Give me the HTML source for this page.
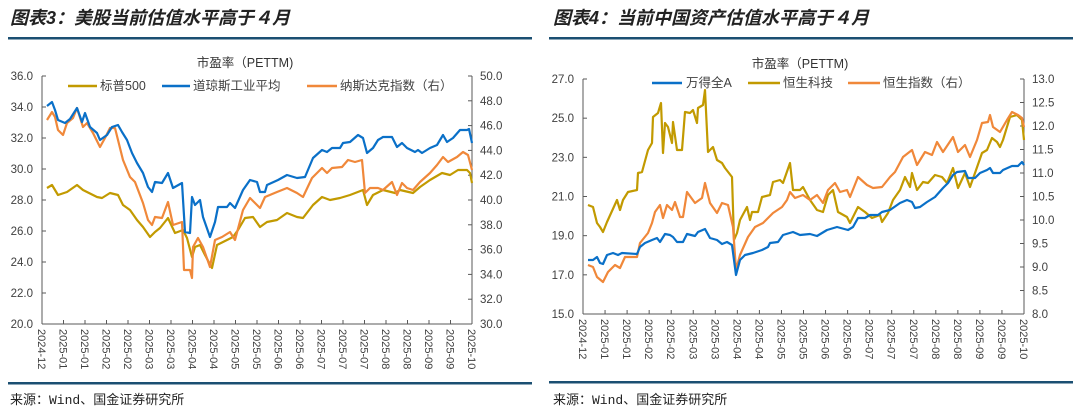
<!DOCTYPE html>
<html><head><meta charset="utf-8">
<style>
body{margin:0;background:#fff;width:1080px;height:415px;overflow:hidden;}
svg{display:block;font-family:"Liberation Sans","Noto Sans CJK SC",sans-serif;}
</style></head><body>
<svg id="s" width="1080" height="415" xmlns="http://www.w3.org/2000/svg">
<text x="10" y="24" font-size="18" font-weight="bold" font-style="italic" fill="#222" font-family="Liberation Sans,Noto Sans CJK SC,sans-serif">图表3：美股当前估值水平高于４月</text>
<text x="553" y="24" font-size="18" font-weight="bold" font-style="italic" fill="#222" font-family="Liberation Sans,Noto Sans CJK SC,sans-serif">图表4：当前中国资产估值水平高于４月</text>
<rect x="8" y="37" width="524" height="2.5" fill="#1b4f72"/>
<rect x="549" y="37" width="524" height="2.5" fill="#1b4f72"/>
<rect x="8" y="382" width="524" height="2.5" fill="#1b4f72"/>
<rect x="549" y="381" width="524" height="2.5" fill="#1b4f72"/>
<text x="10" y="404" font-size="13" fill="#222" font-family="Liberation Mono,Noto Sans CJK SC,monospace">来源：Wind、国金证券研究所</text>
<text x="553" y="404" font-size="13" fill="#222" font-family="Liberation Mono,Noto Sans CJK SC,monospace">来源：Wind、国金证券研究所</text>
<text x="245" y="67" font-size="12.5" fill="#333" text-anchor="middle">市盈率（PETTM)</text>
<text x="800" y="68" font-size="12.5" fill="#333" text-anchor="middle">市盈率（PETTM)</text>
<g id="g"></g>
</svg>
<script>
var g=document.getElementById('g'),h='';
function ln(x1,y1,x2,y2,c,w){h+='<line x1="'+x1+'" y1="'+y1+'" x2="'+x2+'" y2="'+y2+'" stroke="'+c+'" stroke-width="'+(w||1)+'"/>';}
function tx(x,y,t,a,s,extra){h+='<text x="'+x+'" y="'+y+'" font-size="'+(s||11.5)+'" fill="#404040" text-anchor="'+(a||'start')+'" '+(extra||'')+'>'+t+'</text>';}
function pl(p,c){h+='<polyline fill="none" stroke="'+c+'" stroke-width="2.2" stroke-linejoin="round" points="'+p+'"/>';}
var labs=['2024-12','2025-01','2025-01','2025-02','2025-02','2025-03','2025-03','2025-04','2025-04','2025-05','2025-05','2025-06','2025-06','2025-07','2025-07','2025-07','2025-08','2025-08','2025-09','2025-09','2025-10'];
function chart(L,R,T,B,lmin,lmax,lstep,rmin,rmax,rstep){
 var ax='#595959';
 ln(L,T,L,B,ax);ln(R,T,R,B,ax);ln(L,B,R,B,ax);
 for(var v=lmin;v<=lmax+1e-9;v+=lstep){var y=B-(v-lmin)/(lmax-lmin)*(B-T);ln(L,y,L+4,y,ax);tx(L-9,y+4,v.toFixed(1),'end');}
 for(var v=rmin;v<=rmax+1e-9;v+=rstep){var y=B-(v-rmin)/(rmax-rmin)*(B-T);ln(R-4,y,R,y,ax);tx(R+8,y+4,v.toFixed(1),'start');}
 for(var i=0;i<21;i++){var x=L+i*(R-L)/20;ln(x,B,x,B-4,ax);tx(x-4,B+5,labs[i],'start',11,'transform="rotate(90 '+(x-4)+' '+(B+5)+')"');}
}
chart(42,472,76,324,20,36,2,30,50,2);
chart(583,1024,79,314,15,27,2,8,13,0.5);
// legends
var BL='#0a70c8',OR='#f0883a',GD='#c29a00';
ln(68,86,97,86,GD,2.5);tx(100,90,'标普500','start',12.5);
ln(162,86,190,86,BL,2.5);tx(193,90,'道琼斯工业平均','start',12.5);
ln(307,86,337,86,OR,2.5);tx(340,90,'纳斯达克指数（右）','start',12.5);
ln(652,83,682,83,BL,2.5);tx(686,87,'万得全A','start',12.5);
ln(748,83,780,83,GD,2.5);tx(783,87,'恒生科技','start',12.5);
ln(848,83,880,83,OR,2.5);tx(883,87,'恒生指数（右）','start',12.5);
// left chart series
pl('47,188 52,185 58,195 67,192 77,185 83,190 97,197 102,198 110,193 118,195 123,205 130,210 137,220 143,227 150,237 155,232 160,228 168,218 175,233 183,230 187,238 192,257 195,247 200,245 205,255 212,268 217,245 223,242 233,237 238,230 245,218 253,217 260,227 267,222 277,220 287,213 297,217 303,218 313,205 322,197 330,200 340,198 350,195 363,190 367,205 373,195 383,190 395,193 400,190 413,193 420,187 430,180 442,173 450,175 458,170 467,170 470,173 472,183',GD);
pl('47,120 52,112 55,117 58,130 63,135 67,123 73,118 77,108 83,127 87,123 93,133 100,147 105,138 110,128 115,128 118,140 123,160 130,177 135,182 143,203 148,220 152,225 155,217 162,218 168,202 173,225 182,222 184,270 190,270 192,278 193,247 198,238 203,247 210,267 215,240 222,237 230,232 235,240 243,210 250,198 260,208 265,197 277,192 287,188 297,193 303,197 312,178 322,168 327,173 332,168 342,167 348,160 355,162 362,160 365,193 370,188 378,188 383,190 392,182 397,195 402,183 407,188 413,190 420,182 430,173 437,165 443,157 448,162 457,157 463,152 468,155 472,170',OR);
pl('47,106 52,102 55,110 58,120 65,123 70,119 77,108 82,122 85,113 90,127 97,133 100,140 107,135 112,127 118,125 122,132 127,140 132,153 137,163 143,173 148,187 152,192 155,182 162,183 168,173 173,188 182,183 185,232 190,233 192,197 195,205 200,200 203,217 210,237 215,222 218,207 227,207 230,203 235,208 243,190 250,180 257,182 260,192 265,192 267,185 278,180 287,175 297,178 305,177 313,158 322,150 327,152 332,148 340,148 343,143 350,142 358,135 363,138 367,153 373,148 378,140 383,137 392,137 397,147 402,143 407,148 415,152 418,150 422,153 430,148 437,145 443,135 447,142 453,138 460,130 467,130 469,129 472,143',BL);
// right chart series
pl('588,205 593,207 597,223 600,227 603,232 607,222 617,200 620,210 623,200 628,192 637,190 638,173 642,172 648,150 652,143 653,117 658,113 661,103 663,153 665,123 668,127 672,143 673,122 677,150 682,150 685,112 690,113 693,110 697,123 698,108 703,105 705,90 708,152 713,147 717,160 722,163 725,168 732,177 734,240 737,233 740,220 747,207 750,220 752,212 758,212 762,197 770,195 773,182 780,180 783,183 790,163 793,190 800,190 803,187 810,200 817,210 823,212 828,195 833,190 838,212 847,217 850,223 858,207 865,212 872,218 880,215 882,222 888,213 893,200 900,190 905,177 910,187 912,173 917,190 923,182 928,183 935,175 942,177 947,183 953,168 958,188 965,173 970,187 975,173 982,153 987,150 992,138 997,142 1000,147 1003,140 1010,117 1017,115 1022,120 1024,140',GD);
pl('588,265 593,267 597,277 603,282 608,272 615,265 620,268 625,257 637,257 640,243 648,233 652,223 655,212 660,205 663,218 667,205 672,210 675,202 680,217 683,217 687,192 695,203 702,198 705,183 710,203 717,213 722,203 728,205 733,227 736,270 740,255 748,237 755,227 763,223 773,213 782,207 787,200 790,192 795,198 803,195 810,200 817,195 823,203 828,190 835,183 840,192 847,190 850,197 858,177 867,185 873,188 882,187 890,177 895,172 903,157 912,150 917,165 925,152 932,155 937,142 943,152 953,137 958,152 965,145 970,157 977,140 982,123 988,122 990,115 993,127 1000,132 1007,120 1012,112 1018,115 1022,118 1024,127',OR);
pl('588,260 593,260 597,257 600,263 603,264 607,255 613,253 618,255 622,253 637,254 640,247 645,243 652,240 657,238 660,242 665,234 670,235 673,237 677,242 683,242 687,234 695,236 698,232 705,229 710,238 717,240 722,244 727,242 732,245 736,275 740,260 745,255 753,253 762,250 768,247 770,243 778,242 783,235 793,232 800,235 810,234 817,236 827,230 837,227 848,230 853,227 858,218 865,218 870,215 878,215 882,212 890,210 900,203 907,200 912,202 915,208 920,207 927,202 935,197 943,188 948,183 953,175 957,172 965,171 968,178 975,178 980,173 987,170 990,168 993,173 1000,173 1003,170 1012,166 1018,166 1022,162 1024,165',BL);
g.innerHTML=h;
</script>
</body></html>
